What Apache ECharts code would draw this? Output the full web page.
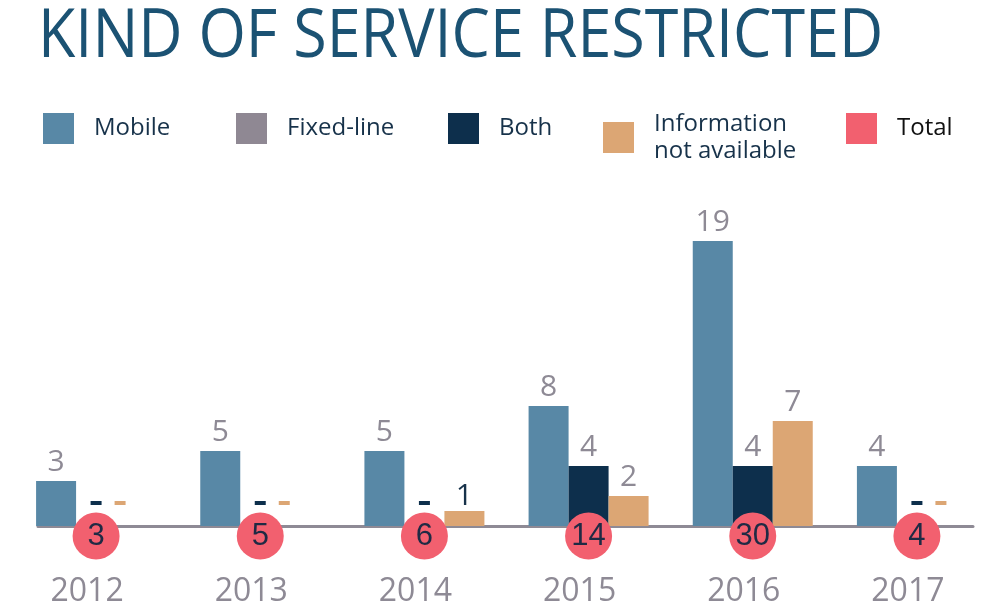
<!DOCTYPE html>
<html>
<head>
<meta charset="utf-8">
<script src="https://cdn.jsdelivr.net/npm/echarts@6/dist/echarts.min.js"></script>
<style>
html,body{margin:0;padding:0;background:#fff;}
#chart{width:1000px;height:613px;}
</style>
</head>
<body>
<div id="chart"></div>
<script>
const years = ['2012', '2013', '2014', '2015', '2016', '2017'];
const mobile = [3, 5, 5, 8, 19, 4];
const fixedLine = [0, 0, 0, 0, 0, 0];
const both = [0, 0, 0, 4, 4, 0];
const infoNA = [0, 0, 1, 2, 7, 0];
const totals = [3, 5, 6, 14, 30, 4];
const titleText = 'KIND OF SERVICE RESTRICTED';

const C_MOBILE = '#5888a6';
const C_FIXED = '#8f8893';
const C_BOTH = '#0d2f4c';
const C_INFO = '#dca674';
const C_TOTAL = '#f2606f';
const C_LABEL = '#8e8a95';
const C_DARK = '#17324a';

function buildBarData(values, color, dashOffsetX) {
  return values.map(v => {
    if (v === 0) {
      return {
        value: 0,
        label: {
          show: true, position: 'top', distance: 21, offset: [dashOffsetX, 0],
          formatter: '{d|}',
          rich: { d: { width: 11, height: 4, lineHeight: 4, backgroundColor: color } }
        }
      };
    }
    if (v === 1) {
      return { value: v, label: { show: true, position: 'top', distance: 0, color: C_DARK } };
    }
    return { value: v };
  });
}

const barLabel = {
  show: true, position: 'top', distance: 4,
  color: C_LABEL, fontFamily: 'Open Sans', fontSize: 30
};

const legendText = {
  fontFamily: 'Open Sans', fontSize: 24, color: C_DARK, lineHeight: 20, padding: [10, 0, 0, 15]
};
function mkLegend(name, left, top, extra) {
  return Object.assign({
    data: [name], left: left, top: top, icon: 'rect', padding: 0,
    itemWidth: 31, itemHeight: 31, selectedMode: false,
    textStyle: Object.assign({}, legendText)
  }, extra || {});
}

const chart = echarts.init(document.getElementById('chart'));
chart.setOption({
  animation: false,
  backgroundColor: '#ffffff',
  graphic: [{
    type: 'text', x: 38, y: 4, scaleY: 1.11, z: 10,
    style: {
      x: 0, y: 0, text: titleText, verticalAlign: 'top', align: 'left',
      fontFamily: 'Open Sans', fontSize: 61, fontWeight: 'normal', fill: '#1b5273'
    }
  }],
  legend: [
    mkLegend('Mobile', 43, 113),
    mkLegend('Fixed-line', 236, 113),
    mkLegend('Both', 448, 113),
    mkLegend('Information not available', 603, 95, {
      formatter: () => 'Information\nnot available',
      textStyle: Object.assign({}, legendText, { lineHeight: 27, padding: [31, 0, 0, 15] })
    }),
    mkLegend('Total', 846, 113, { textStyle: Object.assign({}, legendText, { color: '#111111' }) })
  ],
  grid: [
    { left: 14, right: 1, top: 241, height: 285, containLabel: false, outerBoundsMode: 'none' },
    { left: 38, right: 27, top: 241, height: 285, containLabel: false, outerBoundsMode: 'none' }
  ],
  xAxis: [
    {
      type: 'category', data: years, gridIndex: 0,
      axisLine: { show: false }, axisTick: { show: false },
      axisLabel: {
        margin: 50, fontFamily: 'Open Sans', fontSize: 32, color: C_LABEL,
        padding: [0, 18, 0, 0]
      }
    },
    {
      type: 'category', data: years, gridIndex: 1,
      axisLine: { show: true, lineStyle: { color: '#8e8a95', width: 3 } },
      axisTick: { show: false }, axisLabel: { show: false }
    }
  ],
  yAxis: [
    { type: 'value', gridIndex: 0, min: 0, max: 19, show: false, splitLine: { show: false } },
    { type: 'value', gridIndex: 1, min: 0, max: 19, show: false, splitLine: { show: false } }
  ],
  series: [
    {
      name: 'Mobile', type: 'bar', stack: 'mobile', barWidth: 40, barGap: '0%',
      itemStyle: { color: C_MOBILE }, label: barLabel,
      data: buildBarData(mobile, C_MOBILE, 0)
    },
    {
      name: 'Fixed-line', type: 'bar', stack: 'mobile', barWidth: 40,
      itemStyle: { color: C_FIXED }, label: { show: false },
      data: fixedLine
    },
    {
      name: 'Both', type: 'bar', barWidth: 40, barGap: '0%',
      itemStyle: { color: C_BOTH }, label: barLabel,
      data: buildBarData(both, C_BOTH, 0)
    },
    {
      name: 'Information not available', type: 'bar', barWidth: 40, barGap: '0%',
      itemStyle: { color: C_INFO }, label: barLabel,
      data: buildBarData(infoNA, C_INFO, -16)
    },
    {
      name: 'Total', type: 'scatter', z: 5, clip: false,
      symbol: 'circle', symbolSize: 47, symbolOffset: [0, 10],
      itemStyle: { color: C_TOTAL, opacity: 1 },
      label: {
        show: true, position: 'inside',
        formatter: p => String(p.value[2]),
        fontFamily: 'Liberation Sans', fontSize: 31, color: '#1f2a44'
      },
      data: totals.map((t, i) => [years[i], 0, t])
    }
  ]
});
</script>
</body>
</html>
